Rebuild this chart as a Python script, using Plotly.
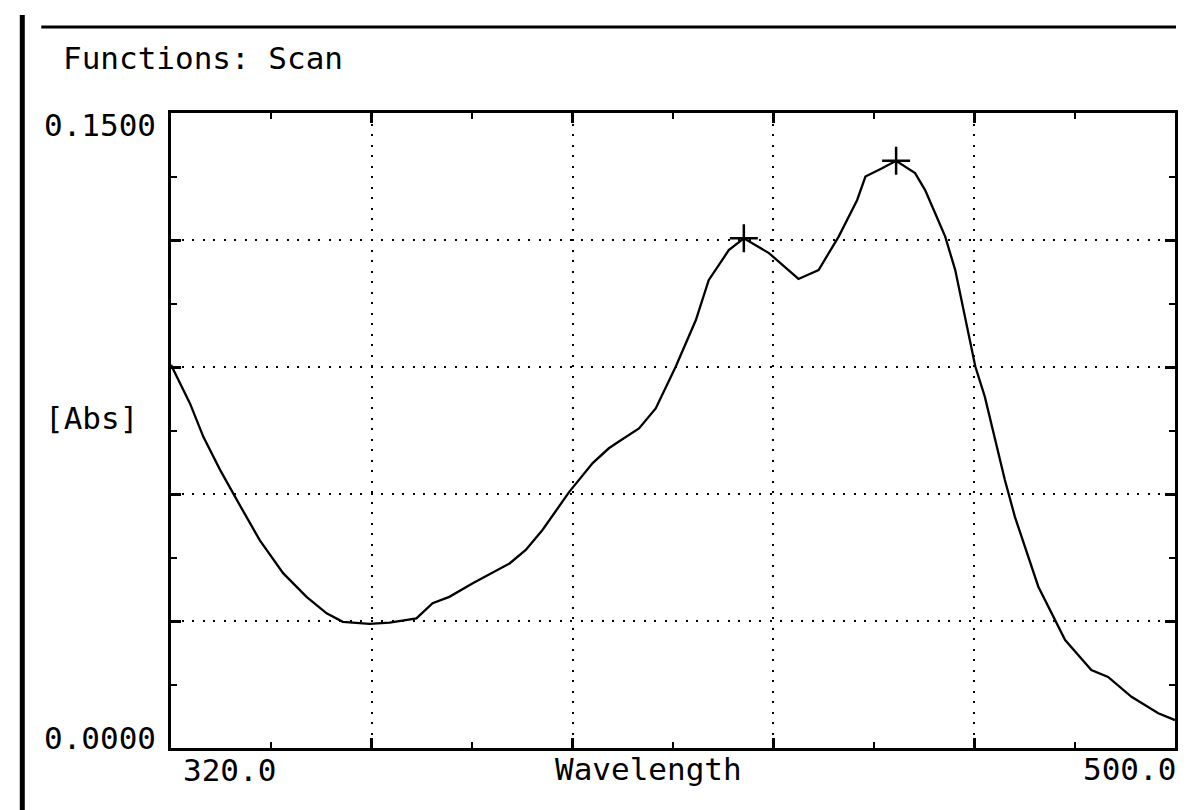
import plotly.graph_objects as go

# ---- data ----
wavelength = [320.0, 323.4, 325.8, 328.8, 331.8, 335.9, 340.1, 344.3, 347.9, 350.8,
              355.6, 359.2, 364.0, 366.9, 369.9, 374.1, 380.7, 383.6, 386.6, 391.4,
              395.6, 398.5, 400.3, 403.9, 406.9, 409.3, 410.5, 414.1, 416.4, 420.0,
              422.7, 427.2, 432.5, 436.1, 439.7, 443.0, 444.5, 447.4, 450.0, 453.4,
              455.2, 457.0, 458.8, 460.6, 462.4, 464.2, 465.9, 467.7, 469.5, 471.3,
              473.1, 475.5, 477.9, 480.3, 485.0, 488.0, 492.2, 497.0, 500.0]
absorbance = [0.0905, 0.0814, 0.0735, 0.0657, 0.0586, 0.0491, 0.0413, 0.0357, 0.0318, 0.0298,
              0.0293, 0.0296, 0.0306, 0.0342, 0.0357, 0.0389, 0.0436, 0.0468, 0.0515, 0.0605,
              0.0673, 0.0708, 0.0724, 0.0755, 0.0802, 0.0869, 0.0901, 0.1011, 0.1105, 0.1176,
              0.1204, 0.1169, 0.1108, 0.1129, 0.1208, 0.1294, 0.1350, 0.1369, 0.1387, 0.1358,
              0.1318, 0.1263, 0.1208, 0.1129, 0.1019, 0.0901, 0.0830, 0.0735, 0.0633, 0.0546,
              0.0476, 0.0381, 0.0318, 0.0255, 0.0184, 0.0168, 0.0121, 0.0082, 0.0066]
peak_x = [422.7, 450.0]
peak_y = [0.1204, 0.1387]

x_range = [320.0, 500.0]
y_range = [0.0, 0.15]
x_grid = [356, 392, 428, 464]
x_minor = [338, 374, 410, 446, 482]
y_grid = [0.03, 0.06, 0.09, 0.12]
y_minor = [0.015, 0.045, 0.075, 0.105, 0.135]

title_text = "Functions: Scan"
y_label = "[Abs]"
x_label = "Wavelength"
y_top_label = "0.1500"
y_bottom_label = "0.0000"
x_left_label = "320.0"
x_right_label = "500.0"

# ---- layout geometry (pixels) ----
W, H = 1190, 810
L, R, T, B = 171, 1177, 113, 748
FONT = "DejaVu Sans Mono"
FS = 31


def px(x):
    return (x - L) / (R - L)


def py(y):
    return (B - y) / (B - T)


fig = go.Figure()
fig.add_trace(go.Scatter(x=wavelength, y=absorbance, mode="lines",
                         line=dict(color="black", width=2.3), showlegend=False,
                         hoverinfo="skip"))
fig.add_trace(go.Scatter(x=peak_x, y=peak_y, mode="markers",
                         marker=dict(symbol="cross-thin-open", size=20, color="black",
                                     line=dict(color="black", width=2.5)),
                         showlegend=False, hoverinfo="skip"))

axis_common = dict(showline=True, linecolor="black", linewidth=2.5, mirror="allticks",
                   ticks="inside", ticklen=10, tickwidth=2.5, tickcolor="black",
                   showticklabels=False, showgrid=True, gridcolor="black",
                   gridwidth=2, griddash="2px,8.5px", zeroline=False)

fig.update_xaxes(range=x_range, tickvals=x_grid,
                 minor=dict(tickvals=x_minor, ticks="inside", ticklen=6,
                            tickwidth=2, tickcolor="black", showgrid=False),
                 **axis_common)
fig.update_yaxes(range=y_range, tickvals=y_grid,
                 minor=dict(tickvals=y_minor, ticks="inside", ticklen=6,
                            tickwidth=2, tickcolor="black", showgrid=False),
                 **axis_common)

font = dict(family=FONT, size=FS, color="black")
ann = [
    dict(text=title_text, x=px(62), y=py(58), xanchor="left", yanchor="middle"),
    dict(text=y_top_label, x=px(157), y=py(125), xanchor="right", yanchor="middle"),
    dict(text=y_label, x=px(44), y=py(418), xanchor="left", yanchor="middle"),
    dict(text=y_bottom_label, x=px(157), y=py(738), xanchor="right", yanchor="middle"),
    dict(text=x_left_label, x=px(182), y=py(770), xanchor="left", yanchor="middle"),
    dict(text=x_label, x=px(649), y=py(769), xanchor="center", yanchor="middle"),
    dict(text=x_right_label, x=px(1179), y=py(769), xanchor="right", yanchor="middle"),
]
annotations = []
for a in ann:
    a.update(xref="paper", yref="paper", showarrow=False, font=font, borderpad=0)
    annotations.append(a)

shapes = [
    dict(type="line", xref="paper", yref="paper", x0=px(41), x1=px(1178),
         y0=py(27), y1=py(27), line=dict(color="black", width=3)),
    dict(type="line", xref="paper", yref="paper", x0=px(22), x1=px(22),
         y0=py(15), y1=py(812), line=dict(color="black", width=5)),
]

fig.update_layout(width=W, height=H, paper_bgcolor="white", plot_bgcolor="white",
                  margin=dict(l=L, r=W - R, t=T, b=H - B, pad=0),
                  annotations=annotations, shapes=shapes, showlegend=False)

fig.write_html("out.html",
               config={"displayModeBar": False},
               post_script="document.body.style.margin='0px';"
                           "document.body.style.overflow='hidden';")
